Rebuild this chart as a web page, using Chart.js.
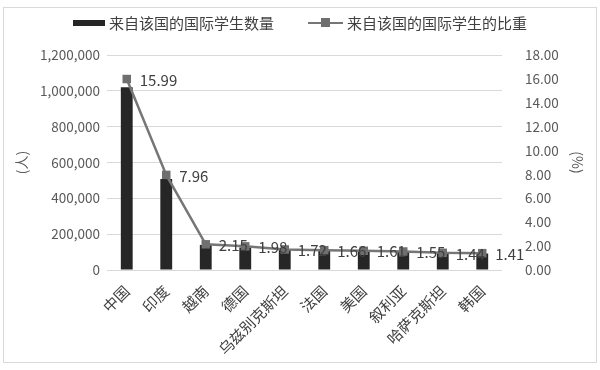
<!DOCTYPE html>
<html>
<head>
<meta charset="utf-8">
<script src="https://cdn.jsdelivr.net/npm/chart.js@4/dist/chart.umd.min.js"></script>
<style>
  html, body { margin:0; padding:0; background:#fff; }
  #wrap { position:relative; width:600px; height:370px; }
  #frame { position:absolute; left:3px; top:7px; width:592px; height:354px; border:1px solid #d9d9d9; pointer-events:none; }
  #legend { position:absolute; top:12px; left:0; width:600px; display:flex; justify-content:center; gap:34px;
            font-family:"Noto Sans CJK SC", sans-serif; font-size:15px; color:#404040; }
  .lg-item { display:flex; align-items:center; gap:4px; }
  .sw-bar { width:32px; height:6px; background:#262626; }
  .sw-line { position:relative; width:35px; height:2px; background:#767676; }
  .sw-line::after { content:""; position:absolute; left:13px; top:-4px; width:9px; height:9px; background:#6f6f6f; }
</style>
</head>
<body>
<div id="wrap">
  <canvas id="chart" width="600" height="370"></canvas>
  <div id="legend">
    <div class="lg-item"><span class="sw-bar"></span><span>来自该国的国际学生数量</span></div>
    <div class="lg-item"><span class="sw-line"></span><span>来自该国的国际学生的比重</span></div>
  </div>
  <div id="frame"></div>
</div>
<script>
// ── Data ───────────────────────────────────────────
const COUNTRIES = ["中国", "印度", "越南", "德国", "乌兹别克斯坦", "法国", "美国", "叙利亚", "哈萨克斯坦", "韩国"];
const STUDENTS = [1020000, 508000, 140000, 126000, 112000, 108000, 105000, 101000, 95000, 92000];
const SHARE = [15.99, 7.96, 2.15, 1.98, 1.72, 1.66, 1.61, 1.55, 1.44, 1.41];

const FONT = "'Noto Sans CJK SC', sans-serif";
const FMT = new Intl.NumberFormat("en-US");

// ── Value labels next to the line points ───────────
const shareLabels = {
  id: "shareLabels",
  afterDatasetsDraw(chart) {
    const meta = chart.getDatasetMeta(1);
    const ctx = chart.ctx;
    ctx.save();
    ctx.font = "15px " + FONT;
    ctx.fillStyle = "#404040";
    ctx.textAlign = "left";
    ctx.textBaseline = "middle";
    meta.data.forEach((pt, i) => {
      ctx.fillText(SHARE[i].toFixed(2), pt.x + 13, pt.y + 1);
    });
    ctx.restore();
  }
};

new Chart(document.getElementById("chart"), {
  data: {
    labels: COUNTRIES,
    datasets: [
      {
        type: "bar",
        label: "来自该国的国际学生数量",
        data: STUDENTS,
        backgroundColor: "#262626",
        categoryPercentage: 1,
        barPercentage: 0.3,
        yAxisID: "y",
        order: 2,
      },
      {
        type: "line",
        label: "来自该国的国际学生的比重",
        data: SHARE,
        borderColor: "#767676",
        borderWidth: 2.5,
        pointStyle: "rect",
        pointRadius: 6,
        pointBackgroundColor: "#6f6f6f",
        pointBorderColor: "#6f6f6f",
        pointBorderWidth: 0,
        tension: 0,
        yAxisID: "y1",
        order: 1,
      },
    ],
  },
  options: {
    responsive: false,
    animation: false,
    layout: { padding: { top: 55, left: 0, right: 0, bottom: 0 } },
    plugins: { legend: { display: false }, tooltip: { enabled: false } },
    scales: {
      x: {
        grid: { display: false },
        border: { display: false },
        ticks: { font: { family: FONT, size: 15 }, color: "#404040", minRotation: 45, maxRotation: 45, padding: 4 },
        afterFit: s => { s.height = 100; },
      },
      y: {
        position: "left",
        min: 0, max: 1200000,
        ticks: { stepSize: 200000, font: { family: FONT, size: 13.5 }, color: "#595959", padding: 7, callback: v => FMT.format(v) },
        grid: { color: "#d9d9d9", drawTicks: false },
        border: { display: false },
        title: { display: true, text: "(人)", font: { family: FONT, size: 14 }, color: "#595959", padding: { top: 13 } },
        afterFit: s => { s.width = 107; },
      },
      y1: {
        position: "right",
        min: 0, max: 18,
        ticks: { stepSize: 2, font: { family: FONT, size: 13.5 }, color: "#595959", padding: 23, callback: v => v.toFixed(2) },
        grid: { display: false, drawTicks: false },
        border: { display: false },
        title: { display: true, text: "(%)", font: { family: FONT, size: 14 }, color: "#595959", padding: { top: 14 } },
        afterFit: s => { s.width = 98; },
      },
    },
  },
  plugins: [shareLabels],
});
</script>
</body>
</html>
